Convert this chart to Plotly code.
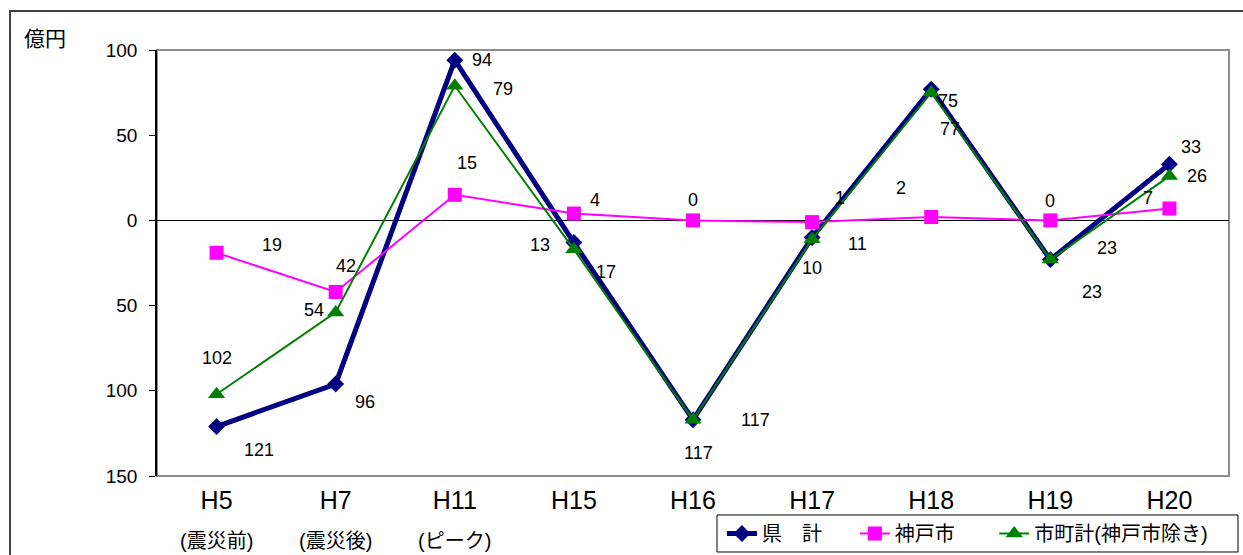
import plotly.graph_objects as go

categories = ["H5", "H7", "H11", "H15", "H16", "H17", "H18", "H19", "H20"]
sub_labels = ["(震災前)", "(震災後)", "(ピーク)", "", "", "", "", "", ""]

ken_kei = [-121, -96, 94, -13, -117, -10, 77, -23, 33]
kobe = [-19, -42, 15, 4, 0, -1, 2, 0, 7]
shicho = [-102, -54, 79, -17, -117, -11, 75, -23, 26]

series_names = ["県　計", "神戸市", "市町計(神戸市除き)"]

# label offsets in pixels (dx, dy downward) for data labels, per series
ken_off = [(42, 23), (29, 18), (27, 0), (-34, 2), (62, 0), (0, 31), (19, 40), (42, 32), (22, -17)]
kobe_off = [(55, -8), (10, -26), (12, -32), (21, -14), (0, -20), (28, -24), (-30, -29), (0, -19), (-21, -10)]
shicho_off = [(0, -36), (-22, -2), (48, 3), (32, 23), (5, 33), (45, 5), (17, 8), (57, -12), (28, 0)]

FONT = "Arial, 'Liberation Sans', 'Noto Sans CJK JP', sans-serif"
NAVY, MAG, GREEN = "#000080", "#FF00FF", "#008000"

fig = go.Figure()
fig.add_trace(go.Scatter(x=categories, y=ken_kei, name=series_names[0], mode="lines+markers",
                         line=dict(color=NAVY, width=5), legend="legend",
                         marker=dict(symbol="diamond", size=13, color=NAVY)))
fig.add_trace(go.Scatter(x=categories, y=kobe, name=series_names[1], mode="lines+markers",
                         line=dict(color=MAG, width=2), legend="legend2",
                         marker=dict(symbol="square", size=14, color=MAG)))
fig.add_trace(go.Scatter(x=categories, y=shicho, name=series_names[2], mode="lines+markers",
                         line=dict(color=GREEN, width=2), legend="legend3",
                         marker=dict(symbol="triangle-up", size=15, color=GREEN)))

annotations = []
for vals, offs in ((ken_kei, ken_off), (kobe, kobe_off), (shicho, shicho_off)):
    for c, v, (dx, dy) in zip(categories, vals, offs):
        annotations.append(dict(x=c, y=v, xref="x", yref="y", text=str(abs(v)),
                                showarrow=False, xshift=dx, yshift=-dy,
                                xanchor="center", yanchor="middle",
                                font=dict(size=18, color="black", family=FONT)))
for c, s in zip(categories, sub_labels):
    if s:
        annotations.append(dict(x=c, y=-0.152, xref="x", yref="paper", text=s,
                                showarrow=False, xanchor="center", yanchor="middle",
                                font=dict(size=20, color="black", family=FONT)))
annotations.append(dict(x=-0.1045, y=1.028, xref="paper", yref="paper", text="億円",
                        showarrow=False, xanchor="center", yanchor="middle",
                        font=dict(size=21, color="black", family=FONT)))

leg_common = dict(orientation="h", xanchor="left", y=-0.135, yanchor="middle",
                  borderwidth=0, bgcolor="rgba(0,0,0,0)",
                  font=dict(size=20, family=FONT), itemwidth=30)

yticks = [-150, -100, -50, 0, 50, 100]
fig.update_layout(
    width=1243, height=555,
    margin=dict(l=157, r=14, t=50, b=79, autoexpand=False),
    plot_bgcolor="white", paper_bgcolor="white",
    font=dict(family=FONT, color="black"),
    showlegend=True,
    legend=dict(x=0.527, **leg_common),
    legend2=dict(x=0.651, **leg_common),
    legend3=dict(x=0.781, **leg_common),
    annotations=annotations,
    xaxis=dict(type="category", range=[-0.5, 8.5], showgrid=False, ticks="",
               tickfont=dict(size=25, family=FONT), showline=False, automargin=False,
               ticklabelstandoff=7, categoryorder="array", categoryarray=categories),
    yaxis=dict(range=[-150, 100], tickvals=yticks, ticktext=[str(abs(t)) for t in yticks],
               showgrid=False, ticks="outside", ticklen=6, tickcolor="black", automargin=False,
               showline=True, linecolor="black", linewidth=1.5,
               zeroline=True, zerolinecolor="black", zerolinewidth=1,
               tickfont=dict(size=19, family=FONT), ticklabelstandoff=8),
    shapes=[
        dict(type="rect", xref="paper", yref="paper", x0=0, x1=1, y0=0, y1=1,
             line=dict(color="#8c8c8c", width=2), layer="below"),
        dict(type="rect", xref="paper", yref="paper", x0=-0.1371, x1=1.05, y0=-0.3, y1=1.0915,
             line=dict(color="#404040", width=2), layer="below"),
        dict(type="rect", xref="paper", yref="paper", x0=0.5224, x1=1.0084, y0=-0.1784, y1=-0.0915,
             line=dict(color="black", width=1), fillcolor="white", layer="below"),
    ],
)

fig.write_html("out.html", config={"displayModeBar": False},
               post_script="document.body.style.margin='0';document.body.style.overflow='hidden';")
